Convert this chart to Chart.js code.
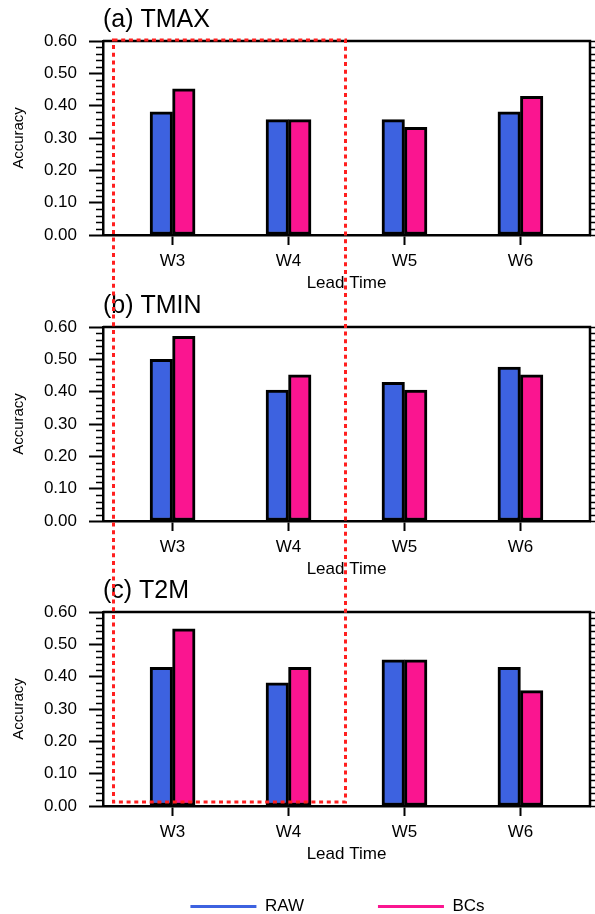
<!DOCTYPE html>
<html>
<head>
<meta charset="utf-8">
<script src="https://cdn.jsdelivr.net/npm/chart.js@4.4.1/dist/chart.umd.min.js"></script>
<style>
    body { margin: 0; background: #fff; width: 595px; height: 914px; overflow: hidden; position: relative; }
    canvas { position: absolute; left: 0; }
    #box { position: absolute; left: 0; top: 0; }
</style>
</head>
<body>
<canvas id="panelA" width="595" height="295" style="top:0px"></canvas>
<canvas id="panelB" width="595" height="295" style="top:286px"></canvas>
<canvas id="panelC" width="595" height="295" style="top:571px"></canvas>
<canvas id="legend" width="595" height="110" style="top:824px"></canvas>
<svg id="box" width="595" height="914">
    <rect x="113.5" y="40" width="232" height="762" fill="none" stroke="#ff1f1f" stroke-width="3" stroke-dasharray="4 3.7"/>
</svg>
<script>
// Forecast accuracy by lead time, raw vs bias-corrected
const leadTimes = ['W3', 'W4', 'W5', 'W6'];
const seriesNames = ['RAW', 'BCs'];
const seriesColors = ['#3d62e0', '#fa1590'];
const panelTitles = ['(a) TMAX', '(b) TMIN', '(c) T2M'];

const tmaxRaw = [0.381, 0.357, 0.357, 0.381];
const tmaxBC = [0.452, 0.357, 0.333, 0.429];
const tminRaw = [0.500, 0.405, 0.429, 0.476];
const tminBC = [0.571, 0.452, 0.405, 0.452];
const t2mRaw = [0.429, 0.381, 0.452, 0.429];
const t2mBC = [0.548, 0.429, 0.452, 0.357];

const yMin = 0, yMax = 0.6, yStep = 0.1, yMinorStep = 0.02;

Chart.defaults.font.family = '"Liberation Sans", Arial, Helvetica, sans-serif';
Chart.defaults.color = '#000';

// top/right frame plus minor ticks (NCL style)
const frameTicks = {
    id: 'frameTicks',
    afterDraw(chart) {
        const { ctx, chartArea: a, scales: { y } } = chart;
        ctx.save();
        ctx.strokeStyle = '#000';
        ctx.lineWidth = 2.5;
        ctx.beginPath();
        ctx.moveTo(a.left, a.top);
        ctx.lineTo(a.right, a.top);
        ctx.lineTo(a.right, a.bottom);
        ctx.stroke();

        ctx.lineWidth = 1.5;
        const n = Math.round((yMax - yMin) / yMinorStep);
        const perMajor = Math.round(yStep / yMinorStep);
        ctx.beginPath();
        for (let i = 0; i <= n; i++) {
            const py = Math.round(y.getPixelForValue(yMin + i * yMinorStep)) + 0.5;
            if (i % perMajor !== 0) {
                ctx.moveTo(a.left, py);
                ctx.lineTo(a.left - 7, py);
            }
            ctx.moveTo(a.right, py);
            ctx.lineTo(a.right + 7, py);
        }
        ctx.stroke();
        ctx.restore();
    }
};

function makePanel(id, title, raw, bc) {
    const values = [raw, bc];
    return new Chart(document.getElementById(id), {
        type: 'bar',
        data: {
            datasets: seriesNames.map((name, s) => ({
                label: name,
                data: values[s].map((v, i) => ({ x: i, y: v })),
                backgroundColor: seriesColors[s],
                borderColor: '#000',
                borderWidth: 3,
                borderSkipped: false,
                barThickness: 22.5
            }))
        },
        options: {
            responsive: false,
            animation: false,
            layout: { padding: { left: 0, right: 5, top: 0, bottom: 0 } },
            scales: {
                x: {
                    type: 'linear',
                    offset: false,
                    min: -0.6,
                    max: leadTimes.length - 0.4,
                    afterBuildTicks: s => { s.ticks = leadTimes.map((_, i) => ({ value: i })); },
                    afterFit: s => { s.height = 60; },
                    ticks: { callback: v => leadTimes[v], font: { size: 17 }, color: '#000', padding: 6, autoSkip: false, maxRotation: 0 },
                    grid: { offset: false, drawOnChartArea: false, tickLength: 10, tickWidth: 2, tickColor: '#000' },
                    border: { color: '#000', width: 2.5 },
                    title: { display: true, text: 'Lead Time', font: { size: 17 }, color: '#000', padding: { top: 0, bottom: 1 } }
                },
                y: {
                    min: yMin,
                    max: yMax,
                    afterFit: s => { s.width = 103; },
                    ticks: { stepSize: yStep, callback: v => v.toFixed(2), font: { size: 17 }, color: '#000', padding: 12 },
                    grid: { drawOnChartArea: false, tickLength: 14, tickWidth: 2, tickColor: '#000' },
                    border: { color: '#000', width: 2.5 },
                    title: { display: true, text: 'Accuracy', font: { size: 15 }, color: '#000', padding: { top: 10, bottom: 0 } }
                }
            },
            plugins: {
                legend: { display: false },
                tooltip: { enabled: false },
                title: {
                    display: true, text: title, align: 'start', fullSize: false,
                    font: { size: 25, weight: 'normal' }, color: '#000',
                    padding: { top: 5, bottom: 6 }
                }
            }
        },
        plugins: [frameTicks]
    });
}

makePanel('panelA', panelTitles[0], tmaxRaw, tmaxBC);
makePanel('panelB', panelTitles[1], tminRaw, tminBC);
makePanel('panelC', panelTitles[2], t2mRaw, t2mBC);

// shared legend under the panels
new Chart(document.getElementById('legend'), {
    type: 'bar',
    data: {
        labels: [],
        datasets: seriesNames.map((name, s) => ({ label: name, data: [], backgroundColor: seriesColors[s] }))
    },
    options: {
        responsive: false,
        animation: false,
        layout: { padding: { left: 80 } },
        scales: { x: { display: false }, y: { display: false } },
        plugins: {
            tooltip: { enabled: false },
            legend: {
                position: 'top',
                maxHeight: 120,
                labels: {
                    usePointStyle: true,
                    pointStyleWidth: 66,
                    padding: 74,
                    font: { size: 17 },
                    color: '#000',
                    generateLabels: chart => chart.data.datasets.map((d, i) => ({
                        text: d.label,
                        fillStyle: d.backgroundColor,
                        strokeStyle: d.backgroundColor,
                        lineWidth: 3,
                        pointStyle: 'line',
                        hidden: false,
                        datasetIndex: i
                    }))
                }
            }
        }
    }
});
</script>
</body>
</html>
